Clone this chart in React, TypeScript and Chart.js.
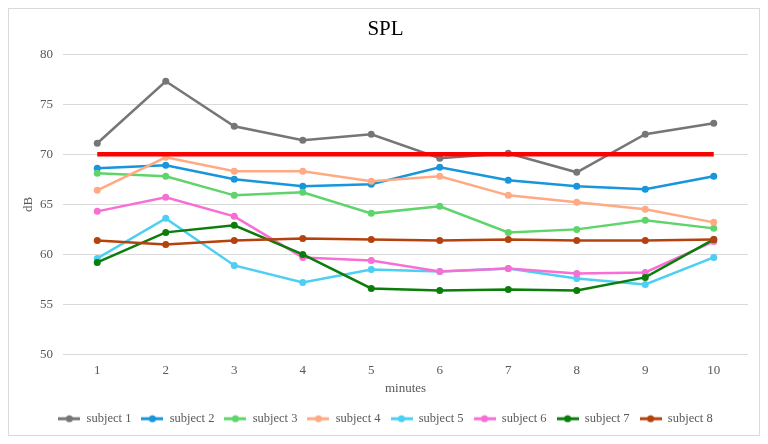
import React, { useEffect, useRef } from "react";
import { Chart, registerables } from "chart.js";

Chart.register(...registerables);

const minutes = ["1", "2", "3", "4", "5", "6", "7", "8", "9", "10"];

const subject1 = [71.1, 77.3, 72.8, 71.4, 72.0, 69.6, 70.1, 68.2, 72.0, 73.1];
const subject2 = [68.6, 68.9, 67.5, 66.8, 67.0, 68.7, 67.4, 66.8, 66.5, 67.8];
const subject3 = [68.1, 67.8, 65.9, 66.2, 64.1, 64.8, 62.2, 62.5, 63.4, 62.6];
const subject4 = [66.4, 69.7, 68.3, 68.3, 67.3, 67.8, 65.9, 65.2, 64.5, 63.2];
const subject5 = [59.6, 63.6, 58.9, 57.2, 58.5, 58.3, 58.6, 57.6, 57.0, 59.7];
const subject6 = [64.3, 65.7, 63.8, 59.7, 59.4, 58.3, 58.6, 58.1, 58.2, 61.3];
const subject7 = [59.2, 62.2, 62.9, 60.0, 56.6, 56.4, 56.5, 56.4, 57.7, 61.5];
const subject8 = [61.4, 61.0, 61.4, 61.6, 61.5, 61.4, 61.5, 61.4, 61.4, 61.5];
const limit = [70, 70, 70, 70, 70, 70, 70, 70, 70, 70];

const seriesNames = ["subject 1", "subject 2", "subject 3", "subject 4", "subject 5", "subject 6", "subject 7", "subject 8"];
const seriesValues = [subject1, subject2, subject3, subject4, subject5, subject6, subject7, subject8];
const seriesColors = ["#767676", "#1796dc", "#5fd46b", "#ffaa82", "#4ccff2", "#f76ed5", "#0a7d0a", "#b5420e"];

const yTicks = [50, 55, 60, 65, 70, 75, 80];

const FONT = "'Liberation Serif', 'Times New Roman', serif";

// Small line-with-dot swatch used as the legend marker
function makeSwatch(color: string): HTMLCanvasElement {
  const c = document.createElement("canvas");
  c.width = 22;
  c.height = 10;
  const ctx = c.getContext("2d")!;
  ctx.strokeStyle = color;
  ctx.lineWidth = 3;
  ctx.beginPath();
  ctx.moveTo(0, 5);
  ctx.lineTo(22, 5);
  ctx.stroke();
  ctx.fillStyle = color;
  ctx.beginPath();
  ctx.arc(11, 5, 3.5, 0, Math.PI * 2);
  ctx.fill();
  return c;
}

export default function App() {
  const canvasRef = useRef<HTMLCanvasElement | null>(null);

  useEffect(() => {
    if (!canvasRef.current) return;
    const swatches = seriesColors.map(makeSwatch);

    const datasets: any[] = seriesValues.map((vals, i) => ({
      label: seriesNames[i],
      data: vals,
      borderColor: seriesColors[i],
      backgroundColor: seriesColors[i],
      borderWidth: 2.5,
      pointRadius: 3.5,
      pointHoverRadius: 3.5,
      pointBorderWidth: 0,
      tension: 0,
      order: 10 - i,
    }));
    datasets.push({
      label: "limit",
      data: limit,
      borderColor: "#ff0000",
      backgroundColor: "#ff0000",
      borderWidth: 4.5,
      pointRadius: 0,
      tension: 0,
      order: 0,
    });

    const chart = new Chart(canvasRef.current, {
      type: "line",
      data: { labels: minutes, datasets },
      options: {
        animation: false,
        responsive: false,
        layout: { padding: { left: 3, right: 0, top: 0, bottom: 0 } },
        plugins: {
          title: {
            display: true,
            text: "SPL",
            color: "#000000",
            font: { family: FONT, size: 21, weight: "normal" },
            padding: { top: 8, bottom: 12 },
          },
          legend: {
            position: "bottom",
            labels: {
              usePointStyle: true,
              pointStyleWidth: 22,
              boxHeight: 10,
              padding: 10,
              color: "#595959",
              font: { family: FONT, size: 12.5 },
              filter: (item: any) => item.datasetIndex < 8,
              sort: (a: any, b: any) => a.datasetIndex - b.datasetIndex,
              generateLabels: (ch: any) => {
                const items = Chart.defaults.plugins.legend.labels.generateLabels(ch);
                return items.map((it: any) => ({
                  ...it,
                  pointStyle: it.datasetIndex < 8 ? swatches[it.datasetIndex] : it.pointStyle,
                  lineWidth: 0,
                }));
              },
            },
          },
          tooltip: { enabled: false },
        },
        scales: {
          x: {
            offset: true,
            afterFit: (scale: any) => {
              scale.height = 48;
            },
            grid: { display: false, drawTicks: false },
            border: { display: false },
            ticks: { color: "#595959", font: { family: FONT, size: 13 }, padding: 8 },
            title: {
              display: true,
              text: "minutes",
              color: "#595959",
              font: { family: FONT, size: 13 },
              padding: { top: 0, bottom: 6 },
            },
          },
          y: {
            min: 50,
            max: 80,
            afterBuildTicks: (scale: any) => {
              scale.ticks = yTicks.map((v) => ({ value: v }));
            },
            afterFit: (scale: any) => {
              scale.width = 51;
            },
            grid: { color: "#d9d9d9", drawTicks: false, lineWidth: 1 },
            border: { display: false },
            ticks: { color: "#595959", font: { family: FONT, size: 13 }, padding: 10 },
            title: {
              display: true,
              text: "dB",
              color: "#595959",
              font: { family: FONT, size: 13 },
              padding: { top: 9, bottom: 0 },
            },
          },
          // empty right-hand gutter inside the frame
          gutter: {
            type: "linear",
            position: "right",
            display: true,
            afterFit: (scale: any) => {
              scale.width = 11;
            },
            grid: { display: false, drawTicks: false },
            border: { display: false },
            ticks: { display: false },
          },
        },
      },
    });
    return () => chart.destroy();
  }, []);

  return (
    <div
      style={{
        position: "relative",
        width: 752,
        height: 428,
        boxSizing: "border-box",
        border: "1px solid #d9d9d9",
        background: "#ffffff",
      }}
    >
      <canvas ref={canvasRef} width={750} height={426} style={{ display: "block" }} />
    </div>
  );
}
